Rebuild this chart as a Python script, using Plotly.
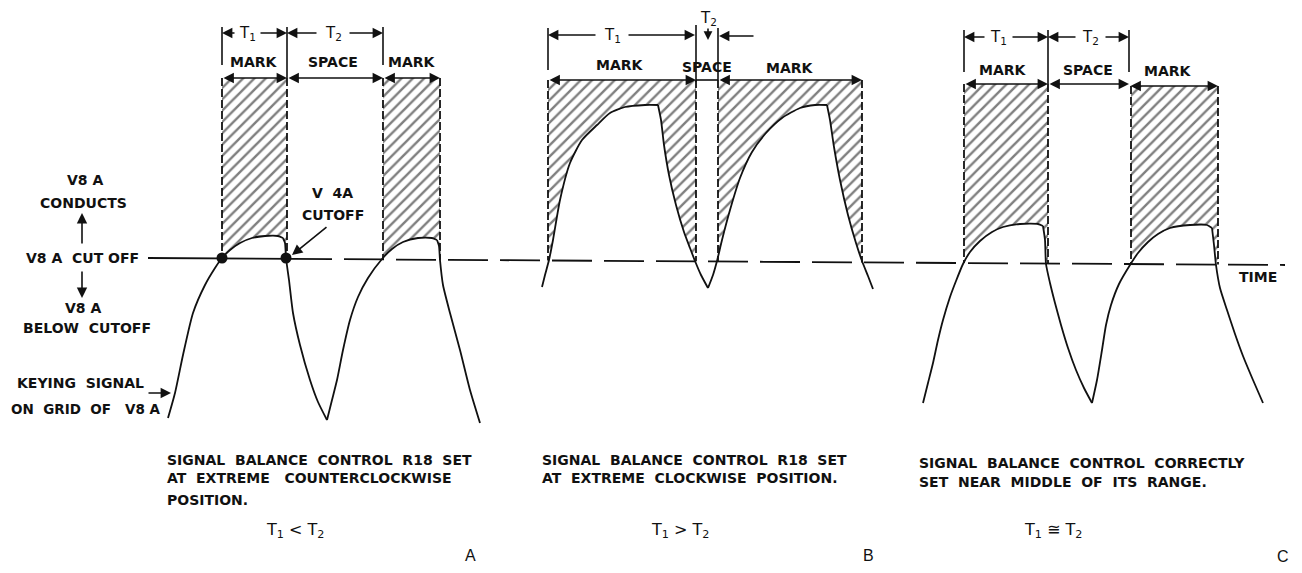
import plotly.graph_objects as go

W, H = 1302, 573
PAGE_MARGIN = 8  # browser default body margin

# ---- reference (cutoff) line: endpoints ----
CUT_X = [148, 1285]
CUT_Y = [258, 265]
CUT_SOLID_END = 292

# ---- keying-signal curve pieces (x, y in drawing units, y down) ----
A_RISE1 = [(168,418),(175,393),(183,355),(193,313),(205,285),(215,268),(222,258),(230,250),(240,243),(252,238),(265,236),(278,236),(283,238)]
A_FALL1 = [(283,238),(285,243),(286,258),(289,280),(293,313),(300,345),(310,380),(318,402),(327,420)]
A_RISE2 = [(327,420),(332,400),(337,380),(343,350),(350,320),(358,297),(368,278),(382,259),(392,249),(403,242),(418,238),(432,238),(437,240)]
A_FALL2 = [(437,240),(439,246),(440,260),(443,285),(450,313),(460,350),(470,390),(480,423)]

B_RISE1 = [(542,287),(545,275),(549,260),(553,240),(560,200),(570,163),(582,140),(597,125),(610,113),(625,107),(645,105),(658,105)]
B_FALL1 = [(658,105),(661,120),(664,145),(669,175),(676,205),(684,232),(690,248),(695,261),(701,275),(708,288)]
B_RISE2 = [(708,288),(713,275),(717,261),(722,240),(730,210),(740,178),(752,152),(766,133),(782,118),(800,108),(815,105),(827,105)]
B_FALL2 = [(827,105),(830,120),(834,147),(840,180),(848,215),(856,243),(862,261),(868,276),(873,289)]

C_RISE1 = [(923,403),(928,383),(933,363),(938,340),(943,320),(950,297),(956,281),(963,264),(970,252),(980,241),(992,232),(1003,227),(1020,224),(1038,224),(1043,226)]
C_FALL1 = [(1043,226),(1045,240),(1046,264),(1050,283),(1055,303),(1061,325),(1068,348),(1076,370),(1084,388),(1092,403)]
C_RISE2 = [(1092,403),(1097,380),(1102,350),(1106,325),(1111,305),(1119,284),(1130,265),(1138,253),(1148,242),(1158,234),(1170,228),(1190,225),(1207,225),(1212,228)]
C_FALL2 = [(1212,228),(1214,245),(1216,265),(1220,288),(1227,310),(1235,334),(1243,356),(1253,380),(1263,403)]

# ---- hatched MARK regions: left, right, top ----
HATCH_LEFT = [222, 383, 548, 718, 964, 1131]
HATCH_RIGHT = [287, 440, 696, 862, 1048, 1218]
HATCH_TOP = [78, 78, 80, 80, 84, 86]
HATCH_CURVES = [A_RISE1 + A_FALL1, A_RISE2 + A_FALL2, B_RISE1 + B_FALL1,
                B_RISE2 + B_FALL2, C_RISE1 + C_FALL1, C_RISE2 + C_FALL2]

# ---- cutoff dots (panel A) ----
DOT_X = [222, 286]
DOT_Y = [258, 258]

# ---- dimension extension lines: x, y_top, y_bottom ----
EXT_X = [222, 287, 383, 548, 696, 718, 964, 1048, 1129]
EXT_Y0 = [27, 27, 27, 28, 25, 28, 30, 30, 30]
EXT_Y1 = [65, 78, 65, 70, 82, 80, 72, 84, 72]

# ---- single-headed arrows: (tail x, tail y, head x, head y) ----
SINGLE_ARROWS = [
    (236, 33, 222, 33), (259, 33, 287, 33), (318, 33, 287, 33), (348, 33, 383, 33),
    (597, 35, 548, 35), (627, 35, 695, 35), (708, 27, 708, 40), (755, 36, 719, 36),
    (986, 37, 964, 37), (1011, 37, 1048, 37), (1077, 37, 1048, 37), (1104, 37, 1129, 37),
    (82, 245, 82, 213), (82, 270, 82, 298), (147, 393, 171, 393), (328, 226, 292, 255),
]
# ---- double-headed MARK / SPACE arrows: (x0, x1, y) ----
DOUBLE_ARROWS = [(222, 287, 78), (287, 383, 78), (383, 440, 78),
                 (548, 696, 80), (718, 862, 80),
                 (964, 1048, 84), (1048, 1129, 84), (1129, 1218, 86)]

# ---- labels ----
PERIOD_LABELS = ["T<sub>1</sub>", "T<sub>2</sub>", "T<sub>1</sub>", "T<sub>2</sub>", "T<sub>1</sub>", "T<sub>2</sub>"]
PERIOD_X = [247, 333, 612, 708, 998, 1090]
PERIOD_Y = [33, 33, 35, 18, 37, 37]
STATE_LABELS = ["MARK", "SPACE", "MARK", "MARK", "SPACE", "MARK", "MARK", "SPACE", "MARK"]
STATE_X = [254, 333, 412, 620, 707, 790, 1003, 1088, 1168]
STATE_Y = [62, 62, 62, 65, 67, 68, 70, 70, 71]

LEFT_LABELS = ["V8 A", "CONDUCTS", "V8 A  CUT OFF", "V8 A", "BELOW  CUTOFF", "KEYING  SIGNAL", "ON  GRID  OF   V8 A"]
LEFT_X = [85, 83, 82, 83, 87, 80, 86]
LEFT_Y = [180, 203, 258, 308, 328, 383, 409]

CAPTIONS_A = ["SIGNAL  BALANCE  CONTROL  R18  SET", "AT  EXTREME   COUNTERCLOCKWISE", "POSITION."]
CAPTIONS_B = ["SIGNAL  BALANCE  CONTROL  R18  SET", "AT  EXTREME  CLOCKWISE  POSITION."]
CAPTIONS_C = ["SIGNAL  BALANCE  CONTROL  CORRECTLY", "SET  NEAR  MIDDLE  OF  ITS  RANGE."]
CAPTION_X = [165, 540, 917]
CAPTION_Y = [[460, 478, 500], [460, 478], [463, 482]]
RELATIONS = ["T<sub>1</sub> &lt; T<sub>2</sub>", "T<sub>1</sub> &gt; T<sub>2</sub>", "T<sub>1</sub> \u2245 T<sub>2</sub>"]
RELATION_X = [295, 680, 1053]
RELATION_Y = 530
PANEL_LETTERS = ["A", "B", "C"]
PANEL_X = [470, 868, 1283]
PANEL_Y = [555, 555, 556]

FONT = "DejaVu Sans"
INK = "#111111"


def cut_at(x):
    return CUT_Y[0] + (CUT_Y[1] - CUT_Y[0]) * (x - CUT_X[0]) / (CUT_X[1] - CUT_X[0])


fig = go.Figure()

# hatched areas
for xl, xr, top, curve in zip(HATCH_LEFT, HATCH_RIGHT, HATCH_TOP, HATCH_CURVES):
    pts = [(x, y) for x, y in curve if xl - 1 <= x <= xr + 1 and y <= cut_at(x) + 0.5]
    pts = sorted(pts, key=lambda p: -p[0])
    px = [xl, xr, xr] + [p[0] for p in pts] + [xl, xl]
    py = [top, top, cut_at(xr)] + [p[1] for p in pts] + [cut_at(xl), top]
    fig.add_trace(go.Scatter(
        x=px, y=py, mode="lines", fill="toself",
        fillcolor="white",
        fillpattern=dict(shape="/", size=8, solidity=0.3, fgcolor="black", bgcolor="white"),
        line=dict(width=0), hoverinfo="skip"))
    # dashed side edges
    fig.add_trace(go.Scatter(x=[xl, xl, None, xr, xr], y=[top, cut_at(xl), None, top, cut_at(xr)],
                             mode="lines", line=dict(color=INK, width=1.8, dash="8px,3px"),
                             hoverinfo="skip"))

# cutoff line: solid part then dashed
fig.add_trace(go.Scatter(x=[CUT_X[0], CUT_SOLID_END], y=[CUT_Y[0], cut_at(CUT_SOLID_END)],
                         mode="lines", line=dict(color=INK, width=1.8), hoverinfo="skip"))
fig.add_trace(go.Scatter(x=[CUT_SOLID_END, CUT_X[1]], y=[cut_at(CUT_SOLID_END), CUT_Y[1]],
                         mode="lines", line=dict(color=INK, width=1.8, dash="40px,12px"),
                         hoverinfo="skip"))

# keying-signal curves
for seg in [A_RISE1, A_FALL1, A_RISE2, A_FALL2, B_RISE1, B_FALL1, B_RISE2, B_FALL2,
            C_RISE1, C_FALL1, C_RISE2, C_FALL2]:
    fig.add_trace(go.Scatter(x=[p[0] for p in seg], y=[p[1] for p in seg], mode="lines",
                             line=dict(color=INK, width=1.8, shape="spline", smoothing=0.6),
                             hoverinfo="skip"))

# extension lines
ex, ey = [], []
for x, y0, y1 in zip(EXT_X, EXT_Y0, EXT_Y1):
    ex += [x, x, None]
    ey += [y0, y1, None]
fig.add_trace(go.Scatter(x=ex, y=ey, mode="lines", line=dict(color=INK, width=1.6), hoverinfo="skip"))
fig.add_trace(go.Scatter(x=[696, 718], y=[80, 80], mode="lines",
                         line=dict(color=INK, width=1.6), hoverinfo="skip"))

# dots
fig.add_trace(go.Scatter(x=DOT_X, y=DOT_Y, mode="markers",
                         marker=dict(color=INK, size=11), hoverinfo="skip"))


def arrow(x0, y0, x1, y1, both=False, size=1.3):
    fig.add_annotation(x=x1, y=y1, ax=x0, ay=y0, xref="x", yref="y", axref="x", ayref="y",
                       text="", showarrow=True, arrowhead=2, arrowsize=size, arrowwidth=1.6,
                       arrowcolor=INK, standoff=0, startstandoff=0,
                       arrowside="end+start" if both else "end")


for x0, y0, x1, y1 in SINGLE_ARROWS:
    arrow(x0, y0, x1, y1, size=1.1 if x0 == x1 == 708 else 1.3)
for x0, x1, y in DOUBLE_ARROWS:
    arrow(x0, y, x1, y, both=True)


def label(txt, x, y, size=14, anchor="center", bold=True, family=FONT):
    fig.add_annotation(x=x, y=y, xref="x", yref="y", text=txt, showarrow=False,
                       xanchor=anchor, yanchor="middle",
                       font=dict(family=family, size=size, color=INK,
                                 weight="bold" if bold else "normal"))


for t, x, y in zip(PERIOD_LABELS, PERIOD_X, PERIOD_Y):
    label(t, x, y, size=15, bold=False)
for t, x, y in zip(STATE_LABELS, STATE_X, STATE_Y):
    label(t, x, y, size=14)
for i, (t, x, y) in enumerate(zip(LEFT_LABELS, LEFT_X, LEFT_Y)):
    label(t, x, y, size=13.5 if i == len(LEFT_LABELS) - 1 else 14)
label("V  4A", 332, 193, size=14)
label("CUTOFF", 333, 215, size=14)
label("TIME", 1258, 277, size=14)

for caps, x, ys in zip([CAPTIONS_A, CAPTIONS_B, CAPTIONS_C], CAPTION_X, CAPTION_Y):
    for t, y in zip(caps, ys):
        label(t, x, y, size=14, anchor="left")
for t, x in zip(RELATIONS, RELATION_X):
    label(t, x, RELATION_Y, size=16, bold=False)
for t, x, y in zip(PANEL_LETTERS, PANEL_X, PANEL_Y):
    label(t, x, y, size=16, bold=False, family="Liberation Sans")

# the page adds a default 8px body margin; size and range the figure so that
# drawing units equal screen pixels of the 1302x573 window
fig.update_layout(
    width=W - 2 * PAGE_MARGIN, height=H - 2 * PAGE_MARGIN, autosize=False,
    margin=dict(l=0, r=0, t=0, b=0),
    paper_bgcolor="white", plot_bgcolor="white",
    showlegend=False,
    xaxis=dict(range=[PAGE_MARGIN, W - PAGE_MARGIN], visible=False, fixedrange=True),
    yaxis=dict(range=[H - PAGE_MARGIN, PAGE_MARGIN], visible=False, fixedrange=True),
)

fig.write_html("out.html")
